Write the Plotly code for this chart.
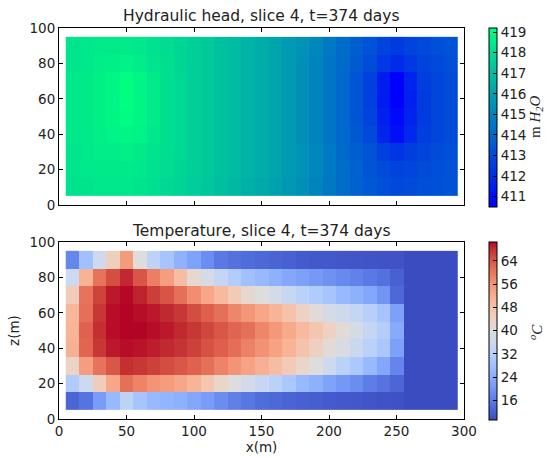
import plotly.graph_objects as go

# ---------------- data ----------------
x_centers = [10, 20, 30, 40, 50, 60, 70, 80, 90, 100, 110, 120, 130, 140, 150,
             160, 170, 180, 190, 200, 210, 220, 230, 240, 250, 260, 270, 280, 290]
z_centers = [10, 20, 30, 40, 50, 60, 70, 80, 90]

head_z10 = [418.2, 418.3, 418.4, 418.4, 418.4, 418.3, 418.1, 417.9, 417.7, 417.5, 417.3, 417.0, 416.8, 416.5, 416.3, 416.0, 415.7, 415.4, 415.0, 414.6, 414.2, 413.8, 413.5, 413.2, 413.0, 413.1, 413.2, 413.2, 413.3]
head_z20 = [418.3, 418.4, 418.5, 418.5, 418.5, 418.4, 418.2, 418.0, 417.8, 417.6, 417.4, 417.1, 416.9, 416.6, 416.4, 416.1, 415.8, 415.5, 415.1, 414.6, 414.2, 413.8, 413.4, 413.1, 412.8, 412.9, 413.1, 413.2, 413.3]
head_z30 = [418.3, 418.4, 418.6, 418.6, 418.7, 418.5, 418.3, 418.1, 417.9, 417.6, 417.4, 417.1, 416.9, 416.6, 416.4, 416.1, 415.8, 415.5, 415.1, 414.6, 414.1, 413.7, 413.3, 412.7, 412.3, 412.6, 412.9, 413.1, 413.2]
head_z40 = [418.4, 418.5, 418.7, 418.8, 418.9, 418.8, 418.4, 418.1, 417.9, 417.6, 417.4, 417.1, 416.9, 416.6, 416.4, 416.1, 415.8, 415.4, 415.0, 414.5, 414.0, 413.5, 413.0, 411.8, 411.0, 411.9, 412.6, 412.9, 413.1]
head_z50 = [418.4, 418.5, 418.7, 418.9, 419.1, 418.9, 418.5, 418.1, 417.9, 417.6, 417.4, 417.1, 416.9, 416.6, 416.4, 416.1, 415.8, 415.4, 415.0, 414.5, 414.0, 413.4, 412.8, 411.6, 410.8, 411.7, 412.5, 412.9, 413.1]
head_z60 = [418.4, 418.5, 418.7, 418.9, 419.2, 418.9, 418.5, 418.1, 417.9, 417.6, 417.4, 417.1, 416.9, 416.6, 416.4, 416.1, 415.8, 415.4, 415.0, 414.5, 414.0, 413.4, 412.7, 411.4, 410.5, 411.6, 412.5, 412.9, 413.1]
head_z70 = [418.4, 418.5, 418.7, 418.9, 419.2, 418.9, 418.5, 418.1, 417.9, 417.6, 417.4, 417.1, 416.9, 416.6, 416.4, 416.1, 415.8, 415.4, 415.0, 414.5, 414.0, 413.4, 412.7, 411.5, 410.5, 411.7, 412.6, 412.9, 413.1]
head_z80 = [418.3, 418.4, 418.6, 418.7, 418.8, 418.6, 418.3, 418.1, 417.8, 417.6, 417.4, 417.1, 416.9, 416.6, 416.4, 416.1, 415.8, 415.4, 415.0, 414.5, 414.1, 413.6, 413.1, 412.4, 412.0, 412.4, 412.8, 413.0, 413.2]
head_z90 = [418.3, 418.4, 418.5, 418.5, 418.5, 418.4, 418.2, 418.0, 417.8, 417.6, 417.4, 417.1, 416.9, 416.6, 416.4, 416.1, 415.8, 415.5, 415.1, 414.6, 414.2, 413.7, 413.3, 412.8, 412.5, 412.8, 413.0, 413.2, 413.3]

temp_z10 = [12.8, 14.7, 21.0, 26.5, 33.2, 29.0, 26.5, 25.6, 24.7, 22.9, 21.0, 18.6, 16.5, 15.3, 13.8, 13.1, 12.5, 11.9, 11.6, 11.3, 11.0, 10.7, 10.4, 10.1, 10.0, 9.2, 9.2, 9.2, 9.2]
temp_z20 = [30.8, 36.3, 45.4, 53.3, 60.9, 58.4, 56.0, 54.8, 53.0, 50.8, 47.2, 42.9, 39.9, 37.2, 35.0, 32.6, 29.6, 26.5, 24.7, 22.3, 20.4, 18.6, 16.2, 14.7, 12.8, 9.2, 9.2, 9.2, 9.2]
temp_z30 = [43.5, 54.5, 60.5, 63.9, 67.9, 67.3, 66.4, 65.1, 63.9, 62.7, 60.9, 58.4, 56.0, 53.9, 51.5, 49.0, 46.0, 42.9, 39.9, 36.3, 32.6, 29.9, 26.5, 22.9, 17.4, 9.2, 9.2, 9.2, 9.2]
temp_z40 = [51.5, 62.1, 67.3, 69.4, 70.0, 69.7, 69.1, 68.5, 67.6, 66.4, 64.5, 63.0, 61.2, 58.7, 56.3, 53.9, 50.8, 47.8, 44.5, 41.0, 38.4, 35.6, 32.6, 29.6, 21.7, 9.2, 9.2, 9.2, 9.2]
temp_z50 = [50.8, 62.7, 67.9, 70.0, 70.5, 70.5, 70.0, 69.4, 68.5, 67.3, 65.7, 63.9, 62.4, 60.9, 58.1, 55.4, 52.7, 49.6, 47.2, 44.2, 41.0, 38.0, 34.4, 31.4, 23.5, 9.2, 9.2, 9.2, 9.2]
temp_z60 = [50.2, 61.0, 67.3, 70.0, 70.5, 70.0, 69.4, 68.5, 67.3, 65.1, 63.0, 60.9, 58.1, 55.7, 53.3, 50.8, 47.8, 44.2, 41.0, 38.0, 36.3, 34.4, 32.0, 29.0, 21.7, 9.2, 9.2, 9.2, 9.2]
temp_z70 = [45.5, 60.5, 66.0, 69.4, 70.3, 68.8, 66.6, 64.2, 60.9, 57.0, 53.3, 49.6, 46.0, 41.7, 39.9, 37.5, 35.0, 32.6, 30.8, 29.0, 26.5, 24.7, 22.9, 19.8, 13.0, 9.2, 9.2, 9.2, 9.2]
temp_z80 = [36.0, 51.0, 60.5, 65.0, 68.5, 64.0, 59.0, 54.5, 49.0, 42.0, 38.0, 34.5, 31.0, 28.0, 26.5, 24.7, 23.0, 21.7, 20.5, 19.2, 18.0, 16.8, 15.6, 14.4, 12.0, 9.2, 9.2, 9.2, 9.2]
temp_z90 = [17.5, 28.0, 36.0, 45.0, 55.0, 40.0, 33.0, 29.0, 25.0, 22.0, 18.5, 15.5, 14.4, 13.7, 13.0, 12.5, 12.0, 11.3, 11.0, 10.8, 10.6, 10.4, 10.3, 10.2, 10.1, 9.2, 9.2, 9.2, 9.2]

head_ticks = [411, 412, 413, 414, 415, 416, 417, 418, 419]
temp_ticks = [16, 24, 32, 40, 48, 56, 64]
x_ticks = [0, 50, 100, 150, 200, 250, 300]
z_ticks = [0, 20, 40, 60, 80, 100]

head = [head_z10, head_z20, head_z30, head_z40, head_z50, head_z60, head_z70, head_z80, head_z90]
temp = [temp_z10, temp_z20, temp_z30, temp_z40, temp_z50, temp_z60, temp_z70, temp_z80, temp_z90]

# ---------------- styles ----------------
W, H = 546, 458
FONT = "DejaVu Sans"

winter = [[0, "rgb(0,0,255)"], [1, "rgb(0,255,128)"]]
cw = [(59, 76, 192), (68, 90, 204), (77, 104, 215), (87, 117, 225), (98, 130, 234),
      (108, 142, 241), (119, 154, 247), (130, 165, 251), (141, 176, 254), (152, 185, 255),
      (163, 194, 255), (174, 201, 253), (184, 208, 249), (194, 213, 244), (204, 217, 238),
      (213, 219, 230), (221, 221, 221), (229, 216, 209), (236, 211, 197), (241, 204, 185),
      (245, 196, 173), (247, 187, 160), (247, 177, 148), (247, 166, 135), (244, 154, 123),
      (241, 141, 111), (236, 127, 99), (229, 112, 88), (222, 96, 77), (213, 80, 66),
      (203, 62, 56), (192, 40, 47), (180, 4, 38)]
coolwarm = [[i / (len(cw) - 1), "rgb(%d,%d,%d)" % c] for i, c in enumerate(cw)]

xdom = [59 / W, 464 / W]
top_dom = [1 - 205 / H, 1 - 28 / H]
bot_dom = [1 - 419 / H, 1 - 242 / H]


def cbar(top_px, len_px, ticks):
    return dict(x=489 / W, xanchor="left", xpad=0, y=1 - top_px / H, yanchor="top", ypad=0,
                len=len_px, lenmode="pixels", thickness=8, thicknessmode="pixels",
                outlinecolor="black", outlinewidth=1, ticks="inside", ticklen=4,
                tickcolor="black", tickvals=ticks,
                tickfont=dict(family=FONT, size=13.5, color="#222"))


fig = go.Figure()
hmin = min(min(r) for r in head)
hmax = max(max(r) for r in head)
tmin = min(min(r) for r in temp)
tmax = max(max(r) for r in temp)

fig.add_trace(go.Heatmap(x=x_centers, y=z_centers, z=head, colorscale=winter,
                         zmin=hmin, zmax=hmax, xaxis="x", yaxis="y",
                         colorbar=cbar(28, 179, head_ticks)))
fig.add_trace(go.Heatmap(x=x_centers, y=z_centers, z=temp, colorscale=coolwarm,
                         zmin=tmin, zmax=tmax, xaxis="x2", yaxis="y2",
                         colorbar=cbar(242, 178, temp_ticks)))

ax = dict(showline=True, linecolor="black", linewidth=1, mirror="ticks", ticks="inside",
          ticklen=4, tickcolor="black", showgrid=False, zeroline=False,
          tickfont=dict(family=FONT, size=13.5, color="#222"))

fig.update_layout(
    width=W, height=H, margin=dict(l=0, r=0, t=0, b=0, autoexpand=False),
    paper_bgcolor="white", plot_bgcolor="white",
    font=dict(family=FONT, size=13, color="#222"),
    xaxis=dict(ax, domain=xdom, range=[0, 300], tickvals=x_ticks, showticklabels=False, anchor="y"),
    yaxis=dict(ax, domain=top_dom, range=[0, 100], tickvals=z_ticks, anchor="x"),
    xaxis2=dict(ax, domain=xdom, range=[0, 300], tickvals=x_ticks, anchor="y2",
                title=dict(text="x(m)", font=dict(family=FONT, size=13.5), standoff=4)),
    yaxis2=dict(ax, domain=bot_dom, range=[0, 100], tickvals=z_ticks, anchor="x2",
                title=dict(text="z(m)", font=dict(family=FONT, size=13.5), standoff=6)),
    annotations=[
        dict(text="Hydraulic head, slice 4, t=374 days", x=(xdom[0] + xdom[1]) / 2, y=1 - 16 / H,
             xref="paper", yref="paper", showarrow=False, xanchor="center", yanchor="middle",
             font=dict(family=FONT, size=15.5, color="#222")),
        dict(text="Temperature, slice 4, t=374 days", x=(xdom[0] + xdom[1]) / 2, y=1 - 231 / H,
             xref="paper", yref="paper", showarrow=False, xanchor="center", yanchor="middle",
             font=dict(family=FONT, size=15.5, color="#222")),
        dict(text="m <i>H<sub>2</sub>O</i>", x=536 / W, y=1 - 117 / H, xref="paper", yref="paper",
             showarrow=False, textangle=-90, xanchor="center", yanchor="middle",
             font=dict(family="Liberation Serif", size=15, color="#222")),
        dict(text="<i><sup>o</sup>C</i>", x=536 / W, y=1 - 332 / H, xref="paper", yref="paper",
             showarrow=False, textangle=-90, xanchor="center", yanchor="middle",
             font=dict(family="Liberation Serif", size=15, color="#222")),
    ],
)

fig.write_html("out.html")
